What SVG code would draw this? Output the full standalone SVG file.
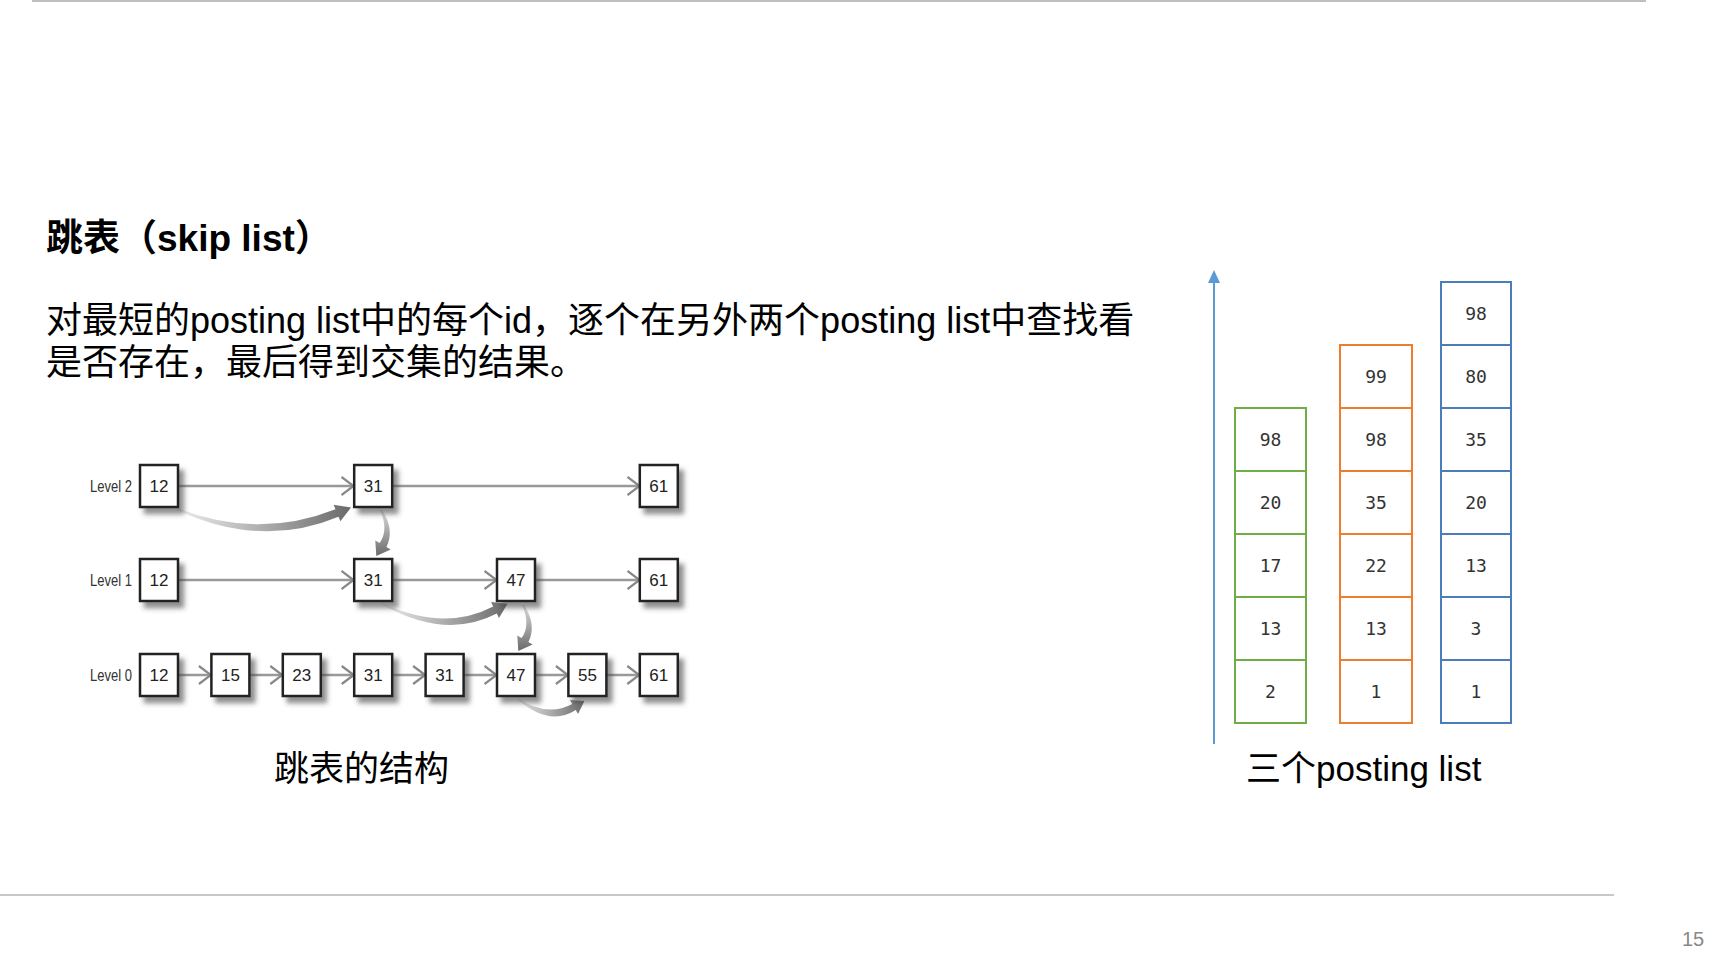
<svg xmlns="http://www.w3.org/2000/svg" width="1734" height="956" viewBox="0 0 1734 956">
<style>
.title{font-family:"Liberation Sans","Noto Sans CJK SC",sans-serif;font-size:37px;font-weight:bold;fill:#000}
.para{font-family:"Liberation Sans","Noto Sans CJK SC",sans-serif;font-size:36px;fill:#000}
.cap{font-family:"Liberation Sans","Noto Sans CJK SC",sans-serif;font-size:35px;fill:#000}
.lvl{font-family:"Liberation Sans",sans-serif;font-size:17px;fill:#333;text-anchor:end}
.sbox{fill:#fff;stroke:#222;stroke-width:2.5;filter:url(#sh)}
.snum{font-family:"Liberation Sans",sans-serif;font-size:17px;fill:#222;text-anchor:middle}
.hline{stroke:#999;stroke-width:2.5;fill:none;marker-end:url(#chev)}
.cell{fill:#fff;stroke-width:2}
.g{stroke:#70ad47}.o{stroke:#ed7d31}.b{stroke:#4a7ebb}
.cnum{font-family:"DejaVu Sans Mono","Liberation Mono",monospace;font-size:18px;fill:#333;text-anchor:middle}
</style>
<defs>
<filter id="sh" x="-30%" y="-30%" width="170%" height="170%">
<feDropShadow dx="5" dy="6" stdDeviation="2.5" flood-color="#444" flood-opacity="0.6"/>
</filter>
<marker id="chev" markerUnits="userSpaceOnUse" viewBox="0 0 14 20" refX="13.5" refY="10" markerWidth="14" markerHeight="20" orient="auto">
<path d="M1,1 L13,10 L1,19" fill="none" stroke="#888" stroke-width="2.2"/>
</marker>
<linearGradient id="gH" x1="0" y1="0" x2="1" y2="0"><stop offset="0" stop-color="#eeeeee"/><stop offset="1" stop-color="#6a6a6a"/></linearGradient>
<linearGradient id="gV" x1="0" y1="0" x2="0" y2="1"><stop offset="0" stop-color="#dddddd"/><stop offset="1" stop-color="#6a6a6a"/></linearGradient>
</defs>
<rect width="1734" height="956" fill="#fff"/>

<g id="frame">
<rect x="32" y="0" width="1614" height="2" fill="#bfbfbf"/>
<rect x="0" y="894" width="1614" height="2" fill="#c8c8c8"/>
<text x="1682" y="946" font-family="Liberation Sans,sans-serif" font-size="20" fill="#888">15</text>
</g>

<g id="heading">
<text class="title" x="46" y="251">跳表（skip list）</text>
<text class="para" x="46" y="333">对最短的posting list中的每个id，逐个在另外两个posting list中查找看</text>
<text class="para" x="46" y="375">是否存在，最后得到交集的结果。</text>
</g>

<g id="skiplist-connectors">
<line class="hline" x1="178" y1="486" x2="354" y2="486"/>
<line class="hline" x1="392" y1="486" x2="640" y2="486"/>
<line class="hline" x1="178" y1="580" x2="354" y2="580"/>
<line class="hline" x1="392" y1="580" x2="497" y2="580"/>
<line class="hline" x1="535" y1="580" x2="640" y2="580"/>
<line class="hline" x1="178" y1="675" x2="211.4" y2="675"/>
<line class="hline" x1="249.4" y1="675" x2="282.8" y2="675"/>
<line class="hline" x1="320.8" y1="675" x2="354.2" y2="675"/>
<line class="hline" x1="392.2" y1="675" x2="425.6" y2="675"/>
<line class="hline" x1="463.6" y1="675" x2="497" y2="675"/>
<line class="hline" x1="535" y1="675" x2="568.4" y2="675"/>
<line class="hline" x1="606.4" y1="675" x2="639.8" y2="675"/>
<path fill="url(#gH)" d="M177,508 Q258,540 335.5,509.3 L333.6,504.7 L351,507.5 L340.4,521.3 L338.5,516.7 Q261,549 177,510 Z"/>
<path fill="url(#gV)" d="M380,510 Q389,530 379.6,543 L375.3,540.4 L376.3,556.1 L390.7,549.6 L386.4,547 Q395,530 382,510 Z"/>
<path fill="url(#gH)" d="M382,603 Q444,632 493.2,606.4 L491,602 L507.5,603.7 L499,618 L496.8,613.6 Q446,640 383,605 Z"/>
<path fill="url(#gV)" d="M522,605 Q531,625 521.6,638 L517.3,635.4 L518.3,651.1 L532.7,644.6 L528.4,642 Q537,625 524,605 Z"/>
<path fill="url(#gH)" d="M516,697 Q546,718 572.3,704 L570,700 L584.4,701 L578,713.9 L575.8,710 Q549,727 517,699 Z"/>
</g>

<g id="skiplist-labels">
<text class="lvl" x="132" y="492" textLength="42" lengthAdjust="spacingAndGlyphs">Level 2</text>
<text class="lvl" x="132" y="586" textLength="42" lengthAdjust="spacingAndGlyphs">Level 1</text>
<text class="lvl" x="132" y="681" textLength="42" lengthAdjust="spacingAndGlyphs">Level 0</text>
</g>

<g id="l2-12"><rect class="sbox" x="140" y="465" width="38" height="42"/><text class="snum" x="159" y="492">12</text></g>
<g id="l2-31"><rect class="sbox" x="354.2" y="465" width="38" height="42"/><text class="snum" x="373.2" y="492">31</text></g>
<g id="l2-61"><rect class="sbox" x="639.8" y="465" width="38" height="42"/><text class="snum" x="658.8" y="492">61</text></g>

<g id="l1-12"><rect class="sbox" x="140" y="559" width="38" height="42"/><text class="snum" x="159" y="586">12</text></g>
<g id="l1-31"><rect class="sbox" x="354.2" y="559" width="38" height="42"/><text class="snum" x="373.2" y="586">31</text></g>
<g id="l1-47"><rect class="sbox" x="497" y="559" width="38" height="42"/><text class="snum" x="516" y="586">47</text></g>
<g id="l1-61"><rect class="sbox" x="639.8" y="559" width="38" height="42"/><text class="snum" x="658.8" y="586">61</text></g>

<g id="l0-12"><rect class="sbox" x="140" y="654" width="38" height="42"/><text class="snum" x="159" y="681">12</text></g>
<g id="l0-15"><rect class="sbox" x="211.4" y="654" width="38" height="42"/><text class="snum" x="230.4" y="681">15</text></g>
<g id="l0-23"><rect class="sbox" x="282.8" y="654" width="38" height="42"/><text class="snum" x="301.8" y="681">23</text></g>
<g id="l0-31a"><rect class="sbox" x="354.2" y="654" width="38" height="42"/><text class="snum" x="373.2" y="681">31</text></g>
<g id="l0-31b"><rect class="sbox" x="425.6" y="654" width="38" height="42"/><text class="snum" x="444.6" y="681">31</text></g>
<g id="l0-47"><rect class="sbox" x="497" y="654" width="38" height="42"/><text class="snum" x="516" y="681">47</text></g>
<g id="l0-55"><rect class="sbox" x="568.4" y="654" width="38" height="42"/><text class="snum" x="587.4" y="681">55</text></g>
<g id="l0-61"><rect class="sbox" x="639.8" y="654" width="38" height="42"/><text class="snum" x="658.8" y="681">61</text></g>

<g id="caption-left"><text class="cap" x="361.5" y="781" text-anchor="middle">跳表的结构</text></g>

<g id="axis">
<line x1="1214" y1="744" x2="1214" y2="280" stroke="#5b9bd5" stroke-width="2"/>
<path d="M1214,270 L1220,283 L1208,283 Z" fill="#5b9bd5"/>
</g>

<g id="list-green">
<rect class="cell g" x="1235" y="408" width="71" height="63"/><text class="cnum" x="1270.5" y="446">98</text>
<rect class="cell g" x="1235" y="471" width="71" height="63"/><text class="cnum" x="1270.5" y="509">20</text>
<rect class="cell g" x="1235" y="534" width="71" height="63"/><text class="cnum" x="1270.5" y="572">17</text>
<rect class="cell g" x="1235" y="597" width="71" height="63"/><text class="cnum" x="1270.5" y="635">13</text>
<rect class="cell g" x="1235" y="660" width="71" height="63"/><text class="cnum" x="1270.5" y="698">2</text>
</g>

<g id="list-orange">
<rect class="cell o" x="1340" y="345" width="72" height="63"/><text class="cnum" x="1376" y="383">99</text>
<rect class="cell o" x="1340" y="408" width="72" height="63"/><text class="cnum" x="1376" y="446">98</text>
<rect class="cell o" x="1340" y="471" width="72" height="63"/><text class="cnum" x="1376" y="509">35</text>
<rect class="cell o" x="1340" y="534" width="72" height="63"/><text class="cnum" x="1376" y="572">22</text>
<rect class="cell o" x="1340" y="597" width="72" height="63"/><text class="cnum" x="1376" y="635">13</text>
<rect class="cell o" x="1340" y="660" width="72" height="63"/><text class="cnum" x="1376" y="698">1</text>
</g>

<g id="list-blue">
<rect class="cell b" x="1441" y="282" width="70" height="63"/><text class="cnum" x="1476" y="320">98</text>
<rect class="cell b" x="1441" y="345" width="70" height="63"/><text class="cnum" x="1476" y="383">80</text>
<rect class="cell b" x="1441" y="408" width="70" height="63"/><text class="cnum" x="1476" y="446">35</text>
<rect class="cell b" x="1441" y="471" width="70" height="63"/><text class="cnum" x="1476" y="509">20</text>
<rect class="cell b" x="1441" y="534" width="70" height="63"/><text class="cnum" x="1476" y="572">13</text>
<rect class="cell b" x="1441" y="597" width="70" height="63"/><text class="cnum" x="1476" y="635">3</text>
<rect class="cell b" x="1441" y="660" width="70" height="63"/><text class="cnum" x="1476" y="698">1</text>
</g>

<g id="caption-right"><text class="cap" x="1246" y="781">三个posting list</text></g>
</svg>
